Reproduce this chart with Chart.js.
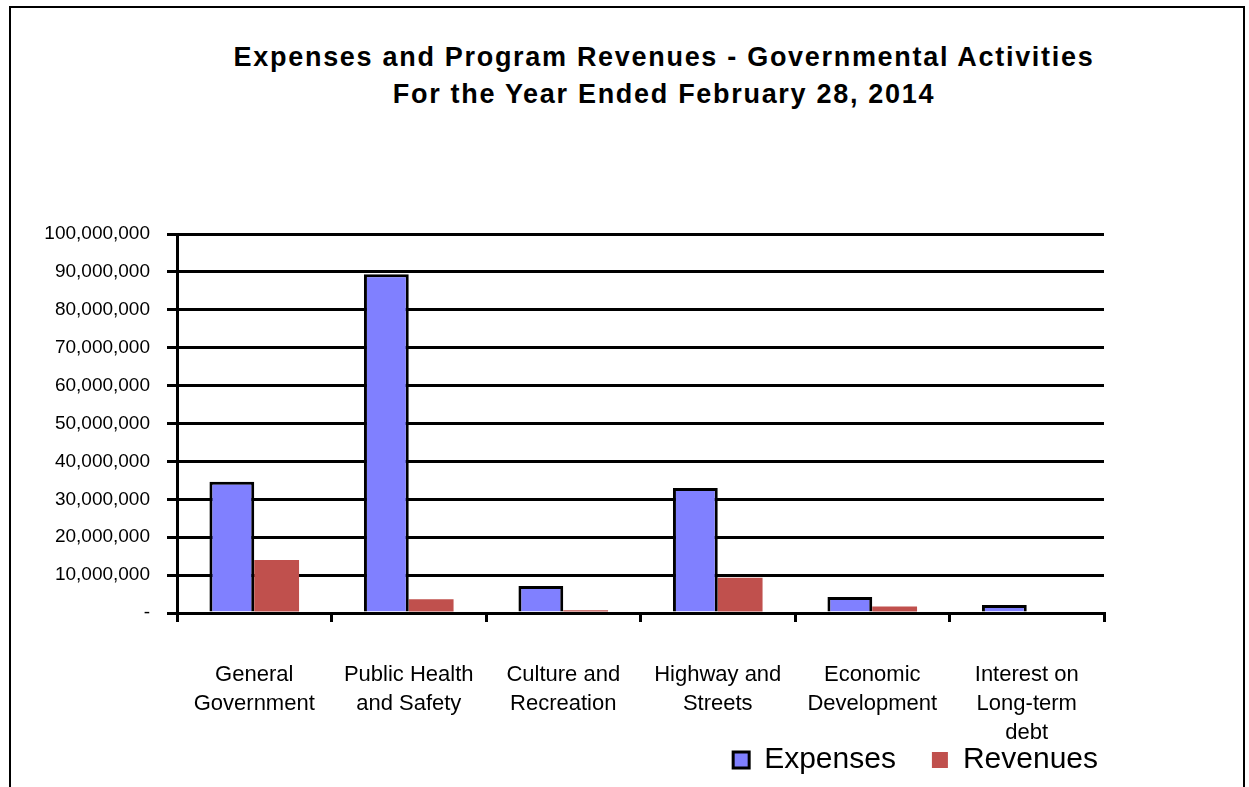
<!DOCTYPE html>
<html>
<head>
<meta charset="utf-8">
<script src="https://cdn.jsdelivr.net/npm/chart.js@4/dist/chart.umd.min.js"></script>
<style>
  html, body { margin: 0; padding: 0; background: #fff; overflow: hidden; }
  #frame {
    position: absolute; left: 9px; top: 6px; width: 1236px; height: 820px;
    border: 2px solid #000; box-sizing: border-box;
  }
  #title {
    position: absolute; left: 0; top: 39px; width: 1328px; text-align: center;
    font: bold 27px Arial, "Liberation Sans", sans-serif; letter-spacing: 1.7px;
    line-height: 37px; color: #000;
  }
  #wrap { position: absolute; left: 0; top: 0; width: 1249px; height: 787px; }
</style>
</head>
<body>
<div id="frame"></div>
<div id="title">Expenses and Program Revenues - Governmental Activities<br>For the Year Ended February 28, 2014</div>
<div id="wrap"><canvas id="myChart"></canvas></div>
<script>
const categories = [
  ['General', 'Government'],
  ['Public Health', 'and Safety'],
  ['Culture and', 'Recreation'],
  ['Highway and', 'Streets'],
  ['Economic', 'Development'],
  ['Interest on', 'Long-term', 'debt']
];
const expenses = [34600000, 89400000, 7100000, 33000000, 4200000, 2100000];
const revenues = [14000000, 3600000, 700000, 9300000, 1700000, 0];

const FONT = 'Arial, "Liberation Sans", sans-serif';
const PLOT_LEFT = 177;
const X_AXIS_HEIGHT = 96;
const LEGEND_SHIFT = 30;

function formatTick(value) {
  if (value === 0) return '-';
  return value.toLocaleString('en-US');
}

// category labels hang down beside the legend, so don't clip them to the axis box;
// legend sits a bit further right than chart.js would put it
const layoutTweaks = {
  id: 'layoutTweaks',
  afterLayout(chart) {
    chart.scales.x.bottom = chart.height;
    chart.legend.left += LEGEND_SHIFT;
    chart.legend.right += LEGEND_SHIFT;
  }
};

const ctx = document.getElementById('myChart');
new Chart(ctx, {
  type: 'bar',
  data: {
    labels: categories,
    datasets: [{
      label: 'Expenses',
      data: expenses,
      backgroundColor: '#8080ff',
      borderColor: '#000',
      borderWidth: 3,
      borderSkipped: 'bottom'
    }, {
      label: 'Revenues',
      data: revenues,
      backgroundColor: '#c0504d',
      borderWidth: 0
    }]
  },
  plugins: [layoutTweaks],
  options: {
    responsive: true,
    maintainAspectRatio: false,
    animation: false,
    layout: { padding: { left: 10, right: 145, top: 234, bottom: 2 } },
    datasets: { bar: { barPercentage: 1, categoryPercentage: 0.58 } },
    plugins: {
      tooltip: { enabled: false },
      title: { display: false },
      legend: {
        position: 'bottom',
        align: 'end',
        labels: {
          color: '#000',
          font: { family: FONT, size: 30 },
          boxWidth: 16,
          boxHeight: 16,
          padding: 36,
          generateLabels(chart) {
            return chart.data.datasets.map((ds, i) => ({
              text: ds.label,
              fillStyle: ds.backgroundColor,
              strokeStyle: '#000',
              lineWidth: i === 0 ? 3 : 0,
              datasetIndex: i,
              fontColor: '#000'
            }));
          }
        }
      }
    },
    scales: {
      x: {
        offset: true,
        afterFit(axis) { axis.height = X_AXIS_HEIGHT; },
        grid: {
          offset: true,
          drawOnChartArea: false,
          color: '#000',
          lineWidth: 3,
          tickLength: 9
        },
        border: { color: '#000', width: 3 },
        ticks: {
          color: '#000',
          font: { family: FONT, size: 22, lineHeight: 1.3 },
          padding: 39,
          maxRotation: 0,
          autoSkip: false
        }
      },
      y: {
        min: 0,
        max: 100000000,
        afterFit(axis) { axis.width = PLOT_LEFT - 10; },
        grid: { color: '#000', lineWidth: 3, tickLength: 10 },
        border: { color: '#000', width: 3 },
        ticks: {
          stepSize: 10000000,
          color: '#000',
          font: { family: FONT, size: 19 },
          padding: 17,
          callback: formatTick
        }
      }
    }
  }
});
</script>
</body>
</html>
